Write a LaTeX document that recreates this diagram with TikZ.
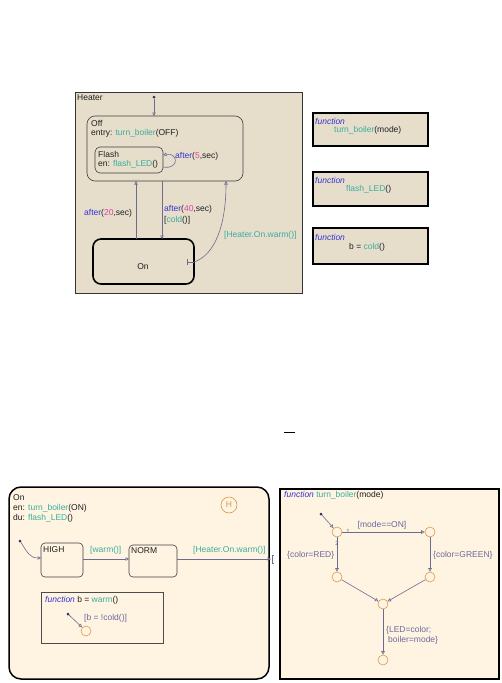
\documentclass[tikz,border=0pt]{standalone}
\usepackage{fontspec}
\setmainfont{Liberation Sans}
\usetikzlibrary{arrows.meta}
\definecolor{tanfill}{HTML}{E6DDCB}
\definecolor{creamfill}{HTML}{FFF3E2}
\definecolor{tealc}{HTML}{3AAE9E}
\definecolor{magc}{HTML}{E040B0}
\definecolor{bluec}{HTML}{3535D0}
\definecolor{linec}{HTML}{6C6C90}
\definecolor{orangec}{HTML}{D89A48}
\definecolor{dotc}{HTML}{2E2E60}
\definecolor{txtc}{HTML}{202020}
\definecolor{labc}{HTML}{6A6A9A}
\newcommand\tfn[1]{\textcolor{tealc}{#1}}
\newcommand\tnum[1]{\textcolor{magc}{#1}}
\newcommand\tkw[1]{\textcolor{bluec}{#1}}
\begin{document}
\begin{tikzpicture}[x=1pt,y=-1pt,
  every node/.style={font=\fontsize{8.5}{10}\selectfont,inner sep=0pt,text=txtc},
  txt/.style={anchor=west},
  state/.style={draw=black!75,line width=0.6pt,rounded corners=#1},
  trans/.style={draw=linec,line width=0.6pt,-{Triangle[open,length=3.5pt,width=3.5pt]}},
  plain/.style={draw=linec,line width=0.6pt},
  dotn/.style={circle,fill=dotc,minimum size=3pt,inner sep=0pt},
  junc/.style={circle,draw=orangec,line width=0.6pt,minimum size=10pt,inner sep=0pt},
  funbox/.style={draw=black,line width=1.5pt}]
\useasboundingbox (0,0) rectangle (501,683);
\fill[white] (0,0) rectangle (501,683);

% ===== Heater chart =====
\draw[fill=tanfill,draw=black!80,line width=0.7pt] (75,92) rectangle (302,293);
\node[txt] (heaterlbl) at (77,98) {Heater};

\draw[state=8] (87,116) rectangle (243,181);
\coordinate (offtop) at (154,116);
\node[txt] (offlbl) at (91,123) {Off};
\node[txt] (offentry) at (91,133) {entry: \tfn{turn\_boiler}(OFF)};

\draw[state=5] (95,147) rectangle (163,173);
\node[txt] (flashlbl) at (98,154) {Flash};
\node[txt] (flashen) at (98,164) {en: \tfn{flash\_LED}()};
\coordinate (flA) at (163,167);
\coordinate (flB) at (163,155);
\draw[trans] (flA) .. controls (180,170) and (178,152) .. (flB);
\node[txt] (afl5) at (175,156) {\tkw{after}(\tnum{5},sec)};

\node[dotn] (hdot) at (154,97) {};
\draw[trans] (hdot) -- (offtop);

\draw[draw=black,line width=1.6pt,rounded corners=8] (93,239) rectangle (194,284);
\node (onlbl) at (143,267) {On};

\coordinate (onA) at (136,239);
\coordinate (offA) at (136,181);
\draw[trans] (onA) -- (offA);
\coordinate (offB) at (162,181);
\coordinate (onB) at (162,239);
\draw[trans] (offB) -- (onB);
\node[txt] (a20) at (84,213) {\tkw{after}(\tnum{20},sec)};
\node[txt] (a40) at (164,209) {\tkw{after}(\tnum{40},sec)};
\node[txt] (cold) at (164,220) {[\tfn{cold}()]};

\coordinate (onC) at (194,262);
\coordinate (offC) at (226,181);
\draw[plain] (187,259) -- (187,265);
\draw[plain] (187,262) -- (onC);
\draw[trans] (onC) .. controls (215,255) and (226,225) .. (offC);
\node[txt,text=tealc] (hw) at (224,235) {[Heater.On.warm()]};

% function boxes
\filldraw[funbox,fill=tanfill] (313,113) rectangle (428,146);
\node[txt] (f1a) at (315,121) {\tkw{\itshape function}};
\node[txt] (f1b) at (334,130) {\tfn{turn\_boiler}(mode)};
\filldraw[funbox,fill=tanfill] (313,172) rectangle (428,206);
\node[txt] (f2a) at (315,180) {\tkw{\itshape function}};
\node[txt] (f2b) at (346,189) {\tfn{flash\_LED}()};
\filldraw[funbox,fill=tanfill] (313,228) rectangle (428,264);
\node[txt] (f3a) at (315,237) {\tkw{\itshape function}};
\node[txt] (f3b) at (349,247) {b = \tfn{cold}()};

% small dash
\draw[black,line width=0.9pt] (284,432) -- (295,432);

% ===== On subchart =====
\draw[draw=black,line width=1.5pt,fill=creamfill,rounded corners=12] (9,487) rectangle (269,679);
\node[txt] (on2a) at (13,498) {On};
\node[txt] (on2b) at (13,508) {en: \tfn{turn\_boiler}(ON)};
\node[txt] (on2c) at (13,518) {du: \tfn{flash\_LED}()};
\node[circle,draw=orangec,line width=0.6pt,minimum size=16pt,text=orangec] (hist) at (229,505) {H};

\draw[state=4] (41,543) rectangle (83,577);
\node[txt] (highl) at (43,550) {HIGH};
\draw[state=4] (129,545) rectangle (177,577);
\node[txt] (norml) at (131,551) {NORM};
\node[dotn] (odot) at (20,541) {};
\coordinate (highin) at (41,558);
\draw[trans] (odot) .. controls (27,552) and (30,558) .. (highin);
\coordinate (highout) at (83,559);
\coordinate (normin) at (129,559);
\draw[trans] (highout) -- (normin);
\node[txt,text=tealc] (wl) at (90,550) {[warm()]};
\coordinate (normout) at (177,559);
\coordinate (exitj) at (271,559);
\draw[trans] (normout) -- (exitj);
\draw[plain] (274,555) -- (272,555) -- (272,563) -- (274,563);
\node[txt,text=tealc] (hw2) at (193,550) {[Heater.On.warm()]};

\draw[draw=black!70,line width=0.6pt] (41,592) rectangle (163,643);
\node[txt] (wfn) at (45,600) {\tkw{\itshape function} b = \tfn{warm}()};
\node[dotn] (wdot) at (68,614) {};
\node[junc] (wend) at (86,631) {};
\draw[trans] (wdot) -- (wend);
\node[txt,text=labc] (bcold) at (84,618) {[b = !cold()]};

% ===== turn_boiler function chart =====
\draw[draw=black,line width=1.5pt,fill=creamfill] (280,489) rectangle (499,679);
\node[txt] (tbl) at (284,495) {\tkw{\itshape function} \tfn{turn\_boiler}(mode)};
\node[dotn] (tdot) at (321,514) {};
\node[junc] (c1) at (337,532) {};
\node[junc] (c2) at (430,532) {};
\node[junc] (c3) at (337,577) {};
\node[junc] (c4) at (430,577) {};
\node[junc] (c5) at (383,604) {};
\node[junc] (c6) at (383,660) {};
\draw[trans] (tdot) -- (c1);
\draw[trans] (c1) -- (c2);
\draw[trans] (c1) -- (c3);
\draw[trans] (c2) -- (c4);
\draw[trans] (c3) -- (c5);
\draw[trans] (c4) -- (c5);
\draw[trans] (c5) -- (c6);
\node[text=labc] (modeon) at (382,525) {[mode==ON]};
\node[text=labc,font=\fontsize{6}{7}\selectfont] (one) at (348,531) {1};
\node[text=labc,font=\fontsize{6}{7}\selectfont] (two) at (337,543) {2};
\node[txt,text=labc] (red) at (287,555) {\{color=RED\}};
\node[txt,text=labc] (green) at (433,555) {\{color=GREEN\}};
\node[txt,text=labc] (led1) at (386,630) {\{LED=color;};
\node[txt,text=labc] (led2) at (388,640) {boiler=mode\}};
\end{tikzpicture}
\end{document}
